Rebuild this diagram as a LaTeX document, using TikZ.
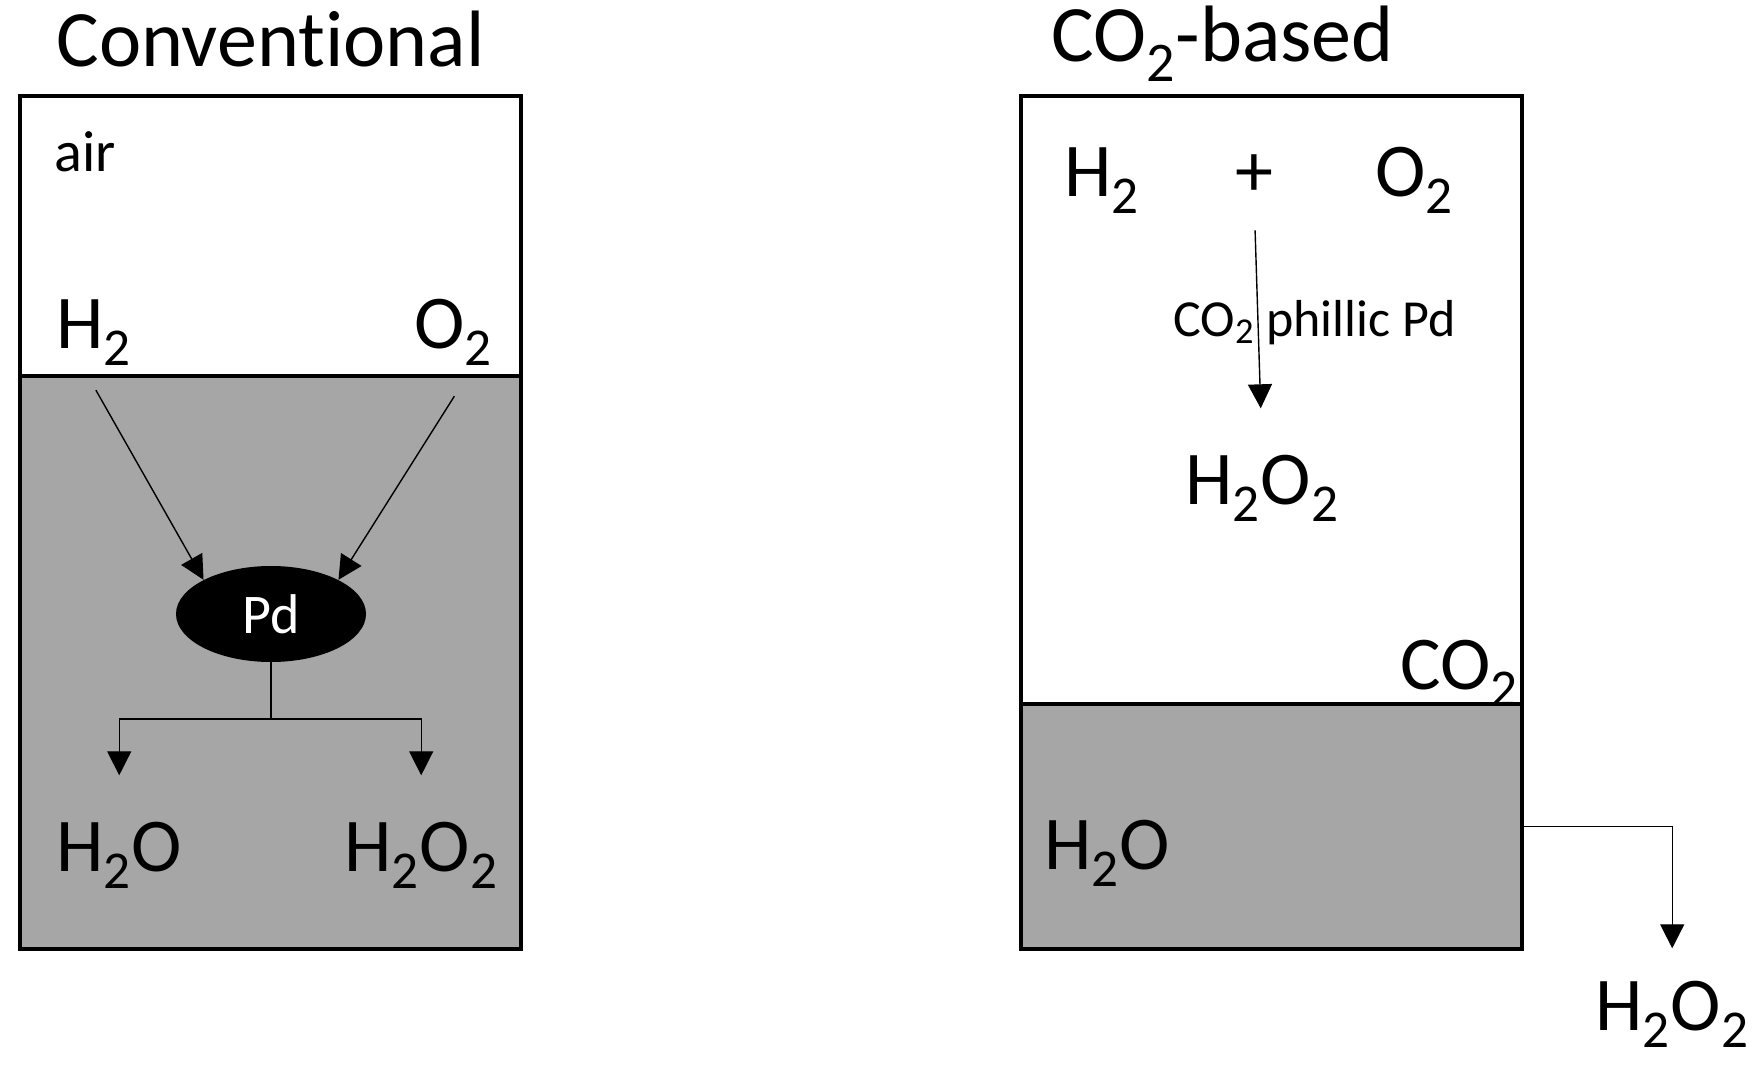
\documentclass[tikz,border=0pt]{standalone}
\usepackage{fontspec}
\setmainfont{Carlito}[Ligatures=NoCommon]
\usetikzlibrary{positioning,calc,shapes.geometric,arrows.meta}
\definecolor{liquidGray}{RGB}{166,166,166}
\tikzset{
    phase/.style={
        rectangle,
        draw,
        line width=2pt,
        inner sep=0pt,
        minimum width=250.5pt
    },
    chem/.style={font=\fontsize{38}{40}\selectfont, inner sep=0pt, anchor=base west},
    heading/.style={font=\fontsize{40}{44}\selectfont, inner sep=0pt, anchor=base west},
    ptr/.style={
        -{Triangle[length=12pt,width=12pt]},
        line width=0.7pt
    }
}

\begin{document}
\begin{tikzpicture}[x=0.5pt, y=-0.5pt]
        \useasboundingbox (0,0) rectangle (1756,1070);

        % conventional
        \node[heading] (convTitle) at (56,67) {Conventional};
        \node[phase, fill=white, minimum height=140pt] (gasL) at (270.5,236) {};
        \node[phase, fill=liquidGray, minimum height=286.5pt] (liqL) at (270.5,662.5) {};
        \node[chem, font=\fontsize{29}{32}\selectfont] (air) at (54,171) {air};
        \node[chem] (h2L) at (56,348) {H\textsubscript{2}};
        \node[chem] (o2L) at (414,348) {O\textsubscript{2}};
        \node[ellipse, fill=black, text=white, inner sep=0pt, minimum width=95pt, minimum height=48pt,
              font=\fontsize{28}{30}\selectfont] (pd) at (271,614) {Pd};
        \node[chem] (h2oL) at (56,871) {H\textsubscript{2}O};
        \node[chem] (h2o2L) at (344,871) {H\textsubscript{2}O\textsubscript{2}};
        \coordinate (split) at (271,719);

        \draw[ptr, shorten <=14pt] ([xshift=-6pt]h2L.south) -- (pd.north west);
        \draw[ptr, shorten <=18pt] ([xshift=10pt]o2L.south) -- (pd.north east);
        \draw[line width=0.7pt] (pd.south) -- (split);
        \draw[ptr, shorten >=23pt] (split) -| (h2oL.north);
        \draw[ptr, shorten >=23pt] (split) -| (h2o2L.north);

        % CO2-based
        \node[heading] (co2Title) at (1051,62) {CO\textsubscript{2}-based};
        \node[phase, fill=white, minimum height=304pt] (gasR) at (1271,400) {};
        \node[phase, fill=liquidGray, minimum height=122.5pt] (liqR) at (1271,826.5) {};
        \node[chem] (h2R) at (1064,196) {H\textsubscript{2}};
        \node[chem, anchor=base] (plus) at (1254,196) {+};
        \node[chem] (o2R) at (1375,196) {O\textsubscript{2}};
        \node[chem, font=\fontsize{26}{28}\selectfont] (cat) at (1173,336) {CO\textsubscript{2} phillic Pd};
        \node[chem] (h2o2R) at (1185,504) {H\textsubscript{2}O\textsubscript{2}};
        \node[chem] (co2R) at (1400,689) {CO\textsubscript{2}};
        \node[chem] (h2oR) at (1044,869) {H\textsubscript{2}O};
        \node[chem] (h2o2Out) at (1595,1030) {H\textsubscript{2}O\textsubscript{2}};

        \draw[ptr, shorten <=17pt, shorten >=23pt] (plus.south) -- (h2o2R.north);
        \draw[ptr, shorten >=16pt] (liqR.east) -| (h2o2Out.north);
    \end{tikzpicture}
\end{document}
